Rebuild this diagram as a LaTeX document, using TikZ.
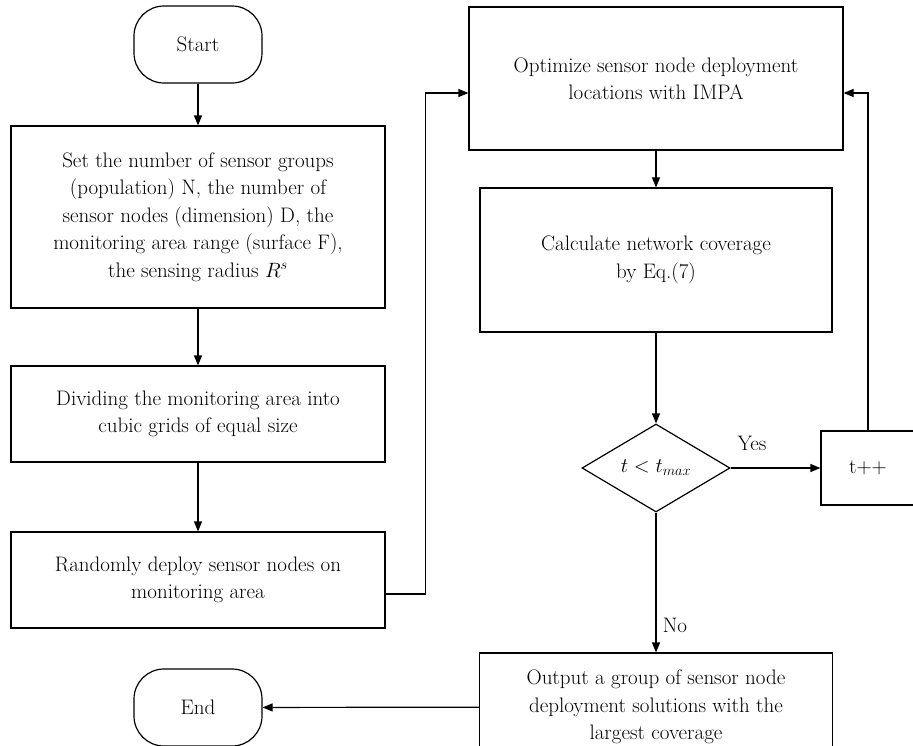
\documentclass[tikz,border=0pt]{standalone}
\usetikzlibrary{shapes.geometric,arrows.meta}

\tikzstyle{block} = [draw, line width=1.2pt, rectangle, align=center, inner sep=0pt]
\tikzstyle{terminal} = [block, rounded corners=30pt, minimum width=128pt, minimum height=77pt]
\tikzstyle{test} = [draw, line width=1.2pt, diamond, aspect=1.68, inner sep=0pt, minimum width=148pt, minimum height=88pt]
\tikzstyle{flow} = [draw, line width=1.2pt, -{Triangle[length=10pt,width=8pt]}]

\begin{document}
\begin{tikzpicture}[x=1pt, y=-1pt, font=\fontsize{21}{27.5}\selectfont]
       \useasboundingbox (0,0) rectangle (913,745);
       % left column
       \node[terminal] (start) at (198,44.5) {Start};
       \node[block, minimum width=374pt, minimum height=182pt] (setup) at (198,217)
           {Set the number of sensor groups\\(population) N, the number of\\sensor nodes (dimension) D, the\\monitoring area range (surface F),\\the sensing radius $R^s$};
       \node[block, minimum width=374pt, minimum height=96pt] (grid) at (198,414)
           {Dividing the monitoring area into\\cubic grids of equal size};
       \node[block, minimum width=374pt, minimum height=96pt] (deploy) at (198,580)
           {Randomly deploy sensor nodes on\\monitoring area};
       \node[terminal] (stop) at (198,707.5) {End};
       % right column
       \node[block, minimum width=374pt, minimum height=143pt] (optim) at (656,78.5)
           {Optimize sensor node deployment\\locations with IMPA};
       \node[block, minimum width=352pt, minimum height=144pt] (cover) at (656,260)
           {Calculate network coverage\\by Eq.(7)};
       \node[test] (check) at (656,468) {$t < t_{max}$};
       \node[block, minimum width=94pt, minimum height=74pt] (incr) at (868,468) {t++};
       \node[block, minimum width=353pt, minimum height=108pt] (output) at (656,707)
           {Output a group of sensor node\\deployment solutions with the\\largest coverage};

       \foreach \source/\sink in {start/setup, setup/grid, grid/deploy, optim/cover, cover/check, check/output} {
           \path[flow] (\source.south) -- (\sink.north);
       }
       \foreach \source/\sink in {check/incr, output/stop} {
           \path[flow] (\source) -- (\sink);
       }
       \path[flow] ([yshift=-14pt]deploy.east) -- ++(40,0) |- ([yshift=-14.5pt]optim.west);
       \path[flow] (incr.north) |- ([yshift=-14.5pt]optim.east);

       \node (yes) at (752,443) {Yes};
       \node (no) at (675,625) {No};
\end{tikzpicture}
\end{document}
